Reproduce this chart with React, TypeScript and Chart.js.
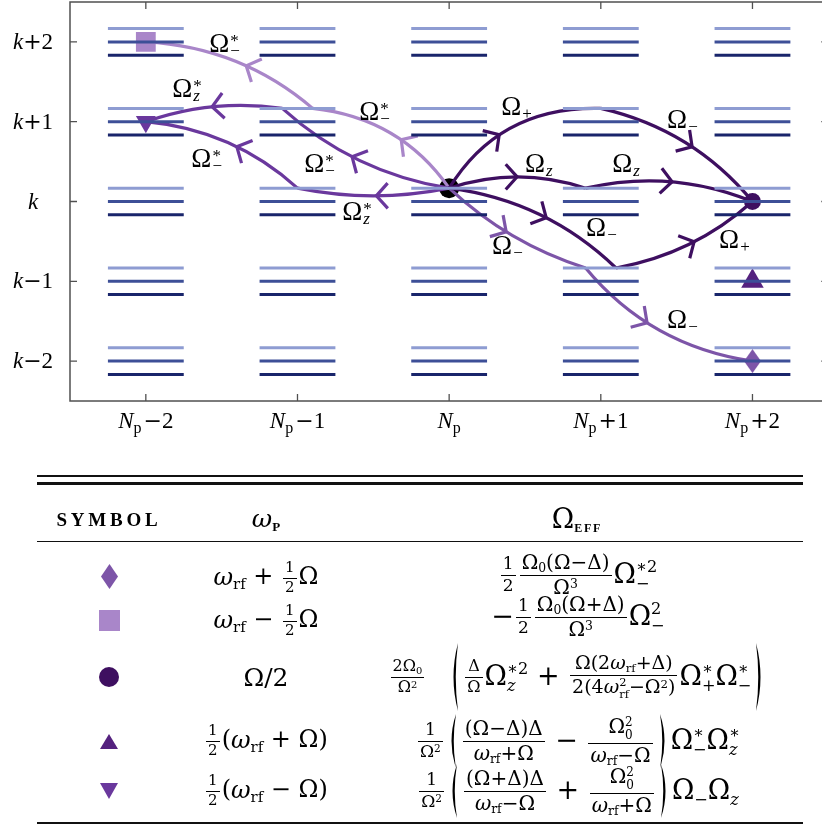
import React, { useEffect, useRef } from 'react';
import { Chart, registerables } from 'chart.js';

Chart.register(...registerables);

const serif = '"Liberation Serif", "DejaVu Serif", serif';
const mathFont = '"DejaVu Serif", "Liberation Serif", serif';

// Photon-number columns and manifold rows of the level diagram
const photonOffsets = [-2, -1, 0, 1, 2];
const photonTickText = ['−2', '−1', '', '+1', '+2'];
const manifoldOffsets = [-2, -1, 0, 1, 2];
const manifoldTickText = ['−2', '−1', '', '+1', '+2'];
// three sublevels in each manifold, top to bottom
const sublevelShift = [0.1667, 0, -0.1667];
const sublevelColor = ['#8e9cd2', '#3d4f97', '#19256b'];
const levelHalfWidth = 0.25;

// marker colours (shared by the diagram and the table)
const cDiamond = '#7d55a8';
const cSquare = '#a986c9';
const cCircle = '#3e0f60';
const cTriUp = '#55227f';
const cTriDown = '#6a389d';

// initial and final states
const startPoint = [{ x: 0, y: 0.167 }];
const diamondPoint = [{ x: 2, y: -2 }];
const squarePoint = [{ x: -2, y: 2 }];
const circlePoint = [{ x: 2, y: 0 }];
const triUpPoint = [{ x: 2, y: -1 }];
const triDownPoint = [{ x: -2, y: 1 }];

// two-photon routes: states visited, plus one point on each curved step (where its arrow sits)
const routeSquare = [[0, 0.167], [-0.9, 1.167], [-2, 2]];
const routeSquareVia = [[-0.316, 0.773], [-1.338, 1.7]];
const routeTriDownA = [[0, 0.167], [-1.0, 0.167], [-2, 1]];
const routeTriDownAVia = [[-0.48, 0.071], [-1.4, 0.686]];
const routeTriDownB = [[0, 0.167], [-1.1, 1.167], [-2, 1]];
const routeTriDownBVia = [[-0.64, 0.56], [-1.563, 1.187]];
const routeDiamond = [[0, 0.167], [0.9, -0.833], [2, -2]];
const routeDiamondVia = [[0.376, -0.38], [1.305, -1.52]];
const routeCircleUp = [[0, 0.167], [1.0, 1.167], [2, 0]];
const routeCircleUpVia = [[0.33, 0.836], [1.602, 0.685]];
const routeCircleMid = [[0, 0.167], [0.9, 0.167], [2, 0]];
const routeCircleMidVia = [[0.448, 0.309], [1.47, 0.247]];
const routeCircleLow = [[0, 0.167], [1.1, -0.833], [2, 0]];
const routeCircleLowVia = [[0.64, -0.204], [1.615, -0.505]];

const routes = [
  { color: cSquare, pts: routeSquare, via: routeSquareVia },
  { color: cTriDown, pts: routeTriDownA, via: routeTriDownAVia },
  { color: cTriDown, pts: routeTriDownB, via: routeTriDownBVia },
  { color: cDiamond, pts: routeDiamond, via: routeDiamondVia },
  { color: cCircle, pts: routeCircleUp, via: routeCircleUpVia },
  { color: cCircle, pts: routeCircleMid, via: routeCircleMidVia },
  { color: cCircle, pts: routeCircleLow, via: routeCircleLowVia },
];

// Rabi-frequency labels on the steps
const labelX = [-1.582, -1.826, -1.7, -0.956, -0.593, -0.705, 0.343, 1.437, 0.5, 1.075, 0.903, 0.283, 1.78, 1.437];
const labelY = [1.876, 1.313, 0.435, 0.372, 1.024, -0.23, 1.086, 0.922, 0.372, 0.372, -0.43, -0.655, -0.58, -1.58];
const labelSub = ['−', 'z', '−', '−', '−', 'z', '+', '−', 'z', 'z', '−', '−', '+', '−'];
const labelConj = [1, 1, 1, 1, 1, 1, 0, 0, 0, 0, 0, 0, 0, 0];

const levelCount = photonOffsets.length * manifoldOffsets.length * sublevelShift.length;

function drawRuns(ctx: any, runs: any[], cx: number, base: number) {
  let total = 0;
  const ws = runs.map((r) => {
    ctx.font = r.font;
    const w = ctx.measureText(r.text).width + (r.gap || 0) + (r.pre || 0);
    total += w;
    return w;
  });
  let x = cx - total / 2;
  runs.forEach((r, i) => {
    ctx.font = r.font;
    ctx.fillText(r.text, x + (r.pre || 0), base + (r.dy || 0));
    x += ws[i];
  });
}

function drawRoutes(chart: any) {
  const ctx = chart.ctx;
  const xs = chart.scales.x;
  const ys = chart.scales.y;
  const P = (p: number[]) => ({ x: xs.getPixelForValue(p[0]), y: ys.getPixelForValue(p[1]) });
  ctx.save();
  ctx.lineWidth = 3.2;
  ctx.lineCap = 'butt';
  ctx.lineJoin = 'miter';
  ctx.miterLimit = 3;
  for (const r of routes) {
    ctx.strokeStyle = r.color;
    for (let i = 0; i < r.pts.length - 1; i++) {
      const A = P(r.pts[i]);
      const B = P(r.pts[i + 1]);
      const V = P(r.via[i]);
      const dA = Math.hypot(V.x - A.x, V.y - A.y);
      const dB = Math.hypot(B.x - V.x, B.y - V.y);
      const s = dA / (dA + dB);
      const k = 2 * s * (1 - s);
      const C = {
        x: (V.x - (1 - s) * (1 - s) * A.x - s * s * B.x) / k,
        y: (V.y - (1 - s) * (1 - s) * A.y - s * s * B.y) / k,
      };
      ctx.beginPath();
      ctx.moveTo(A.x, A.y);
      ctx.quadraticCurveTo(C.x, C.y, B.x, B.y);
      ctx.stroke();
      const tx = 2 * (1 - s) * (C.x - A.x) + 2 * s * (B.x - C.x);
      const ty = 2 * (1 - s) * (C.y - A.y) + 2 * s * (B.y - C.y);
      const L = Math.hypot(tx, ty);
      const ux = -tx / L;
      const uy = -ty / L;
      const a = (48 * Math.PI) / 180;
      const len = 17;
      const b1 = { x: ux * Math.cos(a) - uy * Math.sin(a), y: ux * Math.sin(a) + uy * Math.cos(a) };
      const b2 = { x: ux * Math.cos(-a) - uy * Math.sin(-a), y: ux * Math.sin(-a) + uy * Math.cos(-a) };
      ctx.beginPath();
      ctx.moveTo(V.x + b1.x * len, V.y + b1.y * len);
      ctx.lineTo(V.x, V.y);
      ctx.lineTo(V.x + b2.x * len, V.y + b2.y * len);
      ctx.stroke();
    }
  }
  ctx.restore();
}

function drawLabels(chart: any) {
  const ctx = chart.ctx;
  const xs = chart.scales.x;
  const ys = chart.scales.y;
  ctx.save();
  ctx.fillStyle = '#000';
  ctx.textBaseline = 'alphabetic';
  ctx.textAlign = 'left';
  labelX.forEach((lx, i) => {
    const px = xs.getPixelForValue(lx);
    const py = ys.getPixelForValue(labelY[i]);
    ctx.font = `27px ${serif}`;
    ctx.fillText('Ω', px, py);
    const w = ctx.measureText('Ω').width;
    if (labelConj[i]) {
      ctx.font = `17px ${serif}`;
      ctx.fillText('*', px + w + 1, py - 6);
    }
    ctx.font = labelSub[i] === 'z' ? `italic 17px ${serif}` : `17px ${serif}`;
    ctx.fillText(labelSub[i], px + w + 1, py + 4);
  });
  ctx.restore();
}

function drawFrame(chart: any) {
  const ctx = chart.ctx;
  const xs = chart.scales.x;
  const ys = chart.scales.y;
  const { left, right, top, bottom } = chart.chartArea;
  ctx.save();
  ctx.strokeStyle = '#505050';
  ctx.lineWidth = 1.5;
  ctx.strokeRect(left, top, right - left, bottom - top);
  ctx.lineWidth = 1.3;
  const tl = 7;
  ctx.beginPath();
  photonOffsets.forEach((v) => {
    const x = xs.getPixelForValue(v);
    ctx.moveTo(x, bottom);
    ctx.lineTo(x, bottom - tl);
    ctx.moveTo(x, top);
    ctx.lineTo(x, top + tl);
  });
  manifoldOffsets.forEach((v) => {
    const y = ys.getPixelForValue(v);
    ctx.moveTo(left, y);
    ctx.lineTo(left + tl, y);
    ctx.moveTo(right, y);
    ctx.lineTo(right - tl, y);
  });
  ctx.stroke();
  ctx.fillStyle = '#000';
  ctx.textAlign = 'left';
  ctx.textBaseline = 'alphabetic';
  photonOffsets.forEach((v, i) => {
    const x = xs.getPixelForValue(v);
    const runs: any[] = [
      { text: 'N', font: `italic 23px ${serif}` },
      { text: 'p', font: `16px ${serif}`, dy: 5 },
    ];
    const t = photonTickText[i];
    if (t) {
      runs.push({ text: t[0], font: `22px "DejaVu Serif"`, pre: 2 });
      runs.push({ text: t.slice(1), font: `23px ${serif}` });
    }
    drawRuns(ctx, runs, x, bottom + 27);
  });
  manifoldOffsets.forEach((v, i) => {
    const y = ys.getPixelForValue(v);
    const runs: any[] = [{ text: 'k', font: `italic 23px ${serif}` }];
    const t = manifoldTickText[i];
    if (t) {
      runs.push({ text: t[0], font: `22px "DejaVu Serif"` });
      runs.push({ text: t.slice(1), font: `23px ${serif}` });
    }
    drawRuns(ctx, runs, 33, y + 7);
  });
  ctx.restore();
}

const diagramPlugin = {
  id: 'diagram',
  beforeDatasetDraw(chart: any, args: any) {
    if (args.index === levelCount) drawRoutes(chart);
  },
  afterDatasetsDraw(chart: any) {
    drawLabels(chart);
  },
  afterDraw(chart: any) {
    drawFrame(chart);
  },
};

function diamondImage(w: number, h: number, color: string) {
  const c = document.createElement('canvas');
  c.width = w;
  c.height = h;
  const g = c.getContext('2d')!;
  g.fillStyle = color;
  g.beginPath();
  g.moveTo(w / 2, 0);
  g.lineTo(w, h / 2);
  g.lineTo(w / 2, h);
  g.lineTo(0, h / 2);
  g.closePath();
  g.fill();
  return c;
}

function buildConfig(): any {
  const datasets: any[] = [];
  photonOffsets.forEach((n) => {
    manifoldOffsets.forEach((m) => {
      sublevelShift.forEach((d, j) => {
        datasets.push({
          data: [
            { x: n - levelHalfWidth, y: m + d },
            { x: n + levelHalfWidth, y: m + d },
          ],
          showLine: true,
          borderColor: sublevelColor[j],
          borderWidth: 3,
          pointRadius: 0,
        });
      });
    });
  });
  const marker = (data: any, style: any, color: string, radius: number, rotation = 0) => ({
    data,
    pointStyle: style,
    pointRadius: radius,
    pointRotation: rotation,
    backgroundColor: color,
    pointBackgroundColor: color,
    pointBorderWidth: 0,
    borderWidth: 0,
    showLine: false,
  });
  datasets.push(marker(squarePoint, 'rect', cSquare, 14));
  datasets.push(marker(triDownPoint, 'triangle', cTriDown, 11.5, 180));
  datasets.push(marker(diamondPoint, diamondImage(17, 24, cDiamond), cDiamond, 10));
  datasets.push(marker(triUpPoint, 'triangle', cTriUp, 13));
  datasets.push(marker(circlePoint, 'circle', cCircle, 8.5));
  datasets.push(marker(startPoint, 'circle', '#000000', 10));
  return {
    type: 'scatter',
    data: { datasets },
    options: {
      animation: false,
      responsive: false,
      maintainAspectRatio: false,
      events: [],
      layout: { autoPadding: false, padding: { left: 70, top: 2, right: 11.7, bottom: 39 } },
      scales: {
        x: { type: 'linear', min: -2.5, max: 2.5, display: false },
        y: { type: 'linear', min: -2.5, max: 2.5, display: false },
      },
      plugins: { legend: { display: false }, tooltip: { enabled: false } },
    },
    plugins: [diagramPlugin],
  };
}

/* ---------- table typesetting helpers ---------- */

const lowSub = { fontSize: '0.62em', verticalAlign: '-0.28em', lineHeight: 0 } as any;
const highSup = { fontSize: '0.62em', verticalAlign: '0.45em', lineHeight: 0 } as any;

function Frac({ n, d, fs }: any) {
  return (
    <span
      style={{
        display: 'inline-flex',
        flexDirection: 'column',
        alignItems: 'stretch',
        verticalAlign: 'middle',
        fontSize: fs,
        lineHeight: 1.05,
        margin: '0 2px',
        textAlign: 'center',
      }}
    >
      <span style={{ padding: '0 2px 2px' }}>{n}</span>
      <span style={{ borderTop: '1.2px solid #000', padding: '1px 2px 0' }}>{d}</span>
    </span>
  );
}

function Scr({ b, sup, sub }: any) {
  return (
    <span style={{ whiteSpace: 'nowrap' }}>
      {b}
      <span
        style={{
          display: 'inline-block',
          verticalAlign: '-0.42em',
          fontSize: '0.6em',
          lineHeight: '1.05em',
          textAlign: 'left',
        }}
      >
        <span style={{ display: 'block' }}>{sup ?? '\u00a0'}</span>
        <span style={{ display: 'block' }}>{sub ?? '\u00a0'}</span>
      </span>
    </span>
  );
}

function Paren({ h, right, gap }: any) {
  const w = 10;
  const d = right
    ? `M2,0 Q${w + 1},${h / 2} 2,${h} Q${w - 3.5},${h / 2} 2,0 Z`
    : `M${w - 2},0 Q-1,${h / 2} ${w - 2},${h} Q3.5,${h / 2} ${w - 2},0 Z`;
  return (
    <svg width={w} height={h} style={{ verticalAlign: 'middle', margin: gap || '0 3px' }}>
      <path d={d} fill="#000" />
    </svg>
  );
}

const Wrf = () => (
  <span>
    <i>ω</i>
    <span style={lowSub}>rf</span>
  </span>
);

function Mark({ kind }: any) {
  if (kind === 'diamond')
    return (
      <svg width={17} height={25}>
        <polygon points="8.5,0 17,12.5 8.5,25 0,12.5" fill={cDiamond} />
      </svg>
    );
  if (kind === 'square')
    return (
      <svg width={21} height={21}>
        <rect x={0} y={0} width={21} height={21} fill={cSquare} />
      </svg>
    );
  if (kind === 'circle')
    return (
      <svg width={20} height={20}>
        <circle cx={10} cy={10} r={10} fill={cCircle} />
      </svg>
    );
  if (kind === 'up')
    return (
      <svg width={18} height={15}>
        <polygon points="9,0 18,15 0,15" fill={cTriUp} />
      </svg>
    );
  return (
    <svg width={18} height={16}>
      <polygon points="0,0 18,0 9,16" fill={cTriDown} />
    </svg>
  );
}

function Cell({ cx, cy, w, children }: any) {
  return (
    <div
      style={{
        position: 'absolute',
        left: cx - w / 2,
        top: cy - 50,
        width: w,
        height: 100,
        display: 'flex',
        alignItems: 'center',
        justifyContent: 'center',
        whiteSpace: 'nowrap',
        color: '#000',
      }}
    >
      {children}
    </div>
  );
}

function Rule({ y, h }: any) {
  return <div style={{ position: 'absolute', left: 37, width: 766, top: y - h / 2, height: h, background: '#111' }} />;
}

const colSymbol = 109;
const colFreq = 266;
const colExpr = 578;

function Table() {
  const sym = [
    { kind: 'diamond', y: 576 },
    { kind: 'square', y: 620 },
    { kind: 'circle', y: 677 },
    { kind: 'up', y: 741 },
    { kind: 'down', y: 791 },
  ];
  return (
    <div style={{ position: 'absolute', left: 0, top: 0, width: 822, height: 825, fontFamily: mathFont }}>
      <Rule y={476} h={2} />
      <Rule y={483.5} h={2.2} />
      <Cell cx={colSymbol} cy={520} w={170}>
        <span style={{ fontFamily: serif, fontSize: 19, fontWeight: 'bold', letterSpacing: 3.8 }}>SYMBOL</span>
      </Cell>
      <Cell cx={colFreq} cy={518} w={120}>
        <span style={{ fontSize: 25 }}>
          <i>ω</i>
          <span style={{ fontFamily: serif, fontSize: 13, fontWeight: 'bold', verticalAlign: '-0.3em', lineHeight: 0 }}>P</span>
        </span>
      </Cell>
      <Cell cx={577} cy={518} w={200}>
        <span style={{ fontSize: 27 }}>
          Ω
          <span
            style={{
              fontFamily: serif,
              fontSize: 12,
              fontWeight: 'bold',
              letterSpacing: 1.8,
              verticalAlign: '-0.35em',
              lineHeight: 0,
            }}
          >
            EFF
          </span>
        </span>
      </Cell>
      <Rule y={541.5} h={1.4} />

      {sym.map((s) => (
        <Cell key={s.kind} cx={colSymbol} cy={s.y} w={60}>
          <Mark kind={s.kind} />
        </Cell>
      ))}

      {/* row: diamond */}
      <Cell cx={colFreq} cy={578} w={220}>
        <span style={{ fontSize: 24 }}>
          <Wrf /> + <Frac n="1" d="2" fs={15} />Ω
        </span>
      </Cell>
      <Cell cx={colExpr} cy={575} w={440}>
        <span style={{ fontSize: 27 }}>
          <Frac n="1" d="2" fs={17} />
          <Frac
            n={
              <>
                Ω<span style={lowSub}>0</span>(Ω−Δ)
              </>
            }
            d={
              <>
                Ω<span style={highSup}>3</span>
              </>
            }
            fs={20}
          />
          <Scr b="Ω" sup="∗2" sub="−" />
        </span>
      </Cell>

      {/* row: square */}
      <Cell cx={colFreq} cy={621} w={220}>
        <span style={{ fontSize: 24 }}>
          <Wrf /> − <Frac n="1" d="2" fs={15} />Ω
        </span>
      </Cell>
      <Cell cx={colExpr} cy={617} w={440}>
        <span style={{ fontSize: 27 }}>
          −<Frac n="1" d="2" fs={17} />
          <Frac
            n={
              <>
                Ω<span style={lowSub}>0</span>(Ω+Δ)
              </>
            }
            d={
              <>
                Ω<span style={highSup}>3</span>
              </>
            }
            fs={20}
          />
          <Scr b="Ω" sup="2" sub="−" />
        </span>
      </Cell>

      {/* row: circle */}
      <Cell cx={colFreq} cy={677} w={200}>
        <span style={{ fontSize: 25 }}>Ω/2</span>
      </Cell>
      <Cell cx={colExpr} cy={677} w={560}>
        <span style={{ fontSize: 27 }}>
          <Frac
            n={
              <>
                2Ω<span style={lowSub}>0</span>
              </>
            }
            d={
              <>
                Ω<span style={highSup}>2</span>
              </>
            }
            fs={16}
          />
          <Paren h={68} gap="0 3px 0 24px" />
          <Frac n="Δ" d="Ω" fs={16} />
          <Scr b="Ω" sup="∗2" sub={<i>z</i>} /> +{' '}
          <Frac
            n={
              <>
                Ω(2<Wrf />+Δ)
              </>
            }
            d={
              <>
                2(4<Scr b={<i>ω</i>} sup="2" sub="rf" />−Ω<span style={highSup}>2</span>)
              </>
            }
            fs={19}
          />
          <Scr b="Ω" sup="∗" sub="+" />
          <Scr b="Ω" sup="∗" sub="−" />
          <Paren h={68} right />
        </span>
      </Cell>

      {/* row: upward triangle */}
      <Cell cx={colFreq} cy={741} w={220}>
        <span style={{ fontSize: 24 }}>
          <Frac n="1" d="2" fs={15} />(<Wrf /> + Ω)
        </span>
      </Cell>
      <Cell cx={colExpr} cy={741} w={540}>
        <span style={{ fontSize: 27 }}>
          <Frac
            n="1"
            d={
              <>
                Ω<span style={highSup}>2</span>
              </>
            }
            fs={17}
          />
          <Paren h={54} />
          <Frac
            n="(Ω−Δ)Δ"
            d={
              <>
                <Wrf />+Ω
              </>
            }
            fs={20}
          />{' '}
          −{' '}
          <Frac
            n={<Scr b="Ω" sup="2" sub="0" />}
            d={
              <>
                <Wrf />−Ω
              </>
            }
            fs={20}
          />
          <Paren h={54} right />
          <Scr b="Ω" sup="∗" sub="−" />
          <Scr b="Ω" sup="∗" sub={<i>z</i>} />
        </span>
      </Cell>

      {/* row: downward triangle */}
      <Cell cx={colFreq} cy={791} w={220}>
        <span style={{ fontSize: 24 }}>
          <Frac n="1" d="2" fs={15} />(<Wrf /> − Ω)
        </span>
      </Cell>
      <Cell cx={colExpr} cy={791} w={540}>
        <span style={{ fontSize: 27 }}>
          <Frac
            n="1"
            d={
              <>
                Ω<span style={highSup}>2</span>
              </>
            }
            fs={17}
          />
          <Paren h={54} />
          <Frac
            n="(Ω+Δ)Δ"
            d={
              <>
                <Wrf />−Ω
              </>
            }
            fs={20}
          />{' '}
          +{' '}
          <Frac
            n={<Scr b="Ω" sup="2" sub="0" />}
            d={
              <>
                <Wrf />+Ω
              </>
            }
            fs={20}
          />
          <Paren h={54} right />
          <Scr b="Ω" sub="−" />
          <Scr b="Ω" sub={<i>z</i>} />
        </span>
      </Cell>

      <Rule y={822.5} h={2} />
    </div>
  );
}

export default function App() {
  const ref = useRef<HTMLCanvasElement>(null);
  useEffect(() => {
    const chart = new Chart(ref.current as HTMLCanvasElement, buildConfig());
    return () => chart.destroy();
  }, []);
  return (
    <div
      style={{
        position: 'absolute',
        left: 0,
        top: 0,
        width: 822,
        height: 825,
        overflow: 'hidden',
        background: '#ffffff',
        fontFamily: serif,
      }}
    >
      <canvas ref={ref} width={840} height={440} style={{ position: 'absolute', left: 0, top: 0, width: 840, height: 440 }} />
      <Table />
    </div>
  );
}
